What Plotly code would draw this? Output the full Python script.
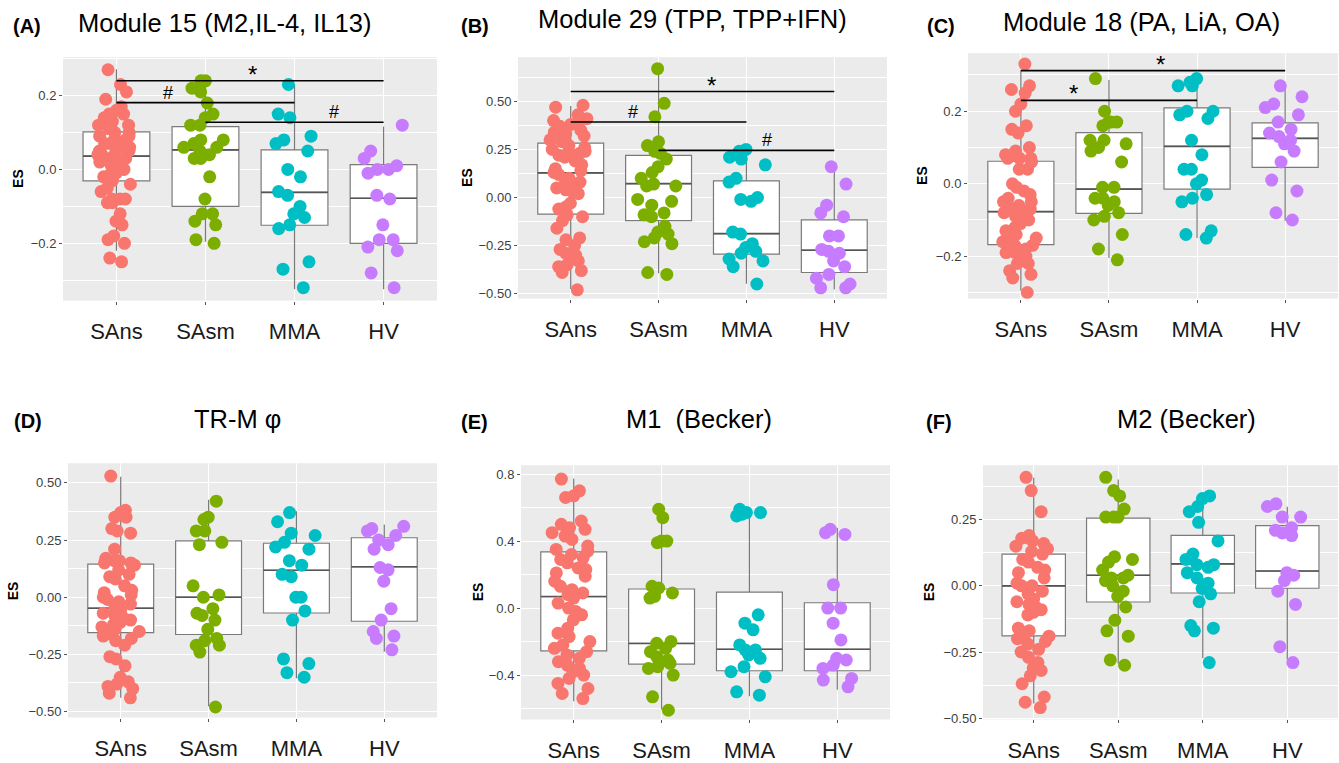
import plotly.graph_objects as go

W, H = 1339, 763
groups = ["SAns", "SAsm", "MMA", "HV"]
colors = ["#F8766D", "#7CAE00", "#00BFC4", "#C77CFF"]

panel_tags = ["(A)", "(B)", "(C)", "(D)", "(E)", "(F)"]
panel_titles = ["Module 15 (M2,IL-4, IL13)", "Module 29 (TPP, TPP+IFN)", "Module 18 (PA, LiA, OA)",
                "TR-M φ", "M1  (Becker)", "M2 (Becker)"]

# ---------------- Panel A ----------------
a_sans = [0.27, 0.23, 0.21, 0.19, 0.17, 0.16, 0.15, 0.15, 0.14, 0.13, 0.12, 0.12, 0.12, 0.11, 0.10, 0.10,
          0.09, 0.09, 0.08, 0.08, 0.07, 0.07, 0.06, 0.06, 0.05, 0.05, 0.04, 0.04, 0.04, 0.03, 0.03, 0.02,
          0.02, 0.01, 0.00, 0.00, -0.01, -0.01, -0.02, -0.03, -0.04, -0.05, -0.06, -0.08, -0.08, -0.08,
          -0.09, -0.09, -0.12, -0.14, -0.15, -0.18, -0.19, -0.20, -0.24, -0.25]
a_sasm = [0.24, 0.24, 0.22, 0.21, 0.18, 0.15, 0.14, 0.12, 0.12, 0.08, 0.08, 0.07, 0.06, 0.06, 0.05, 0.04,
          0.03, 0.03, -0.02, -0.08, -0.12, -0.12, -0.14, -0.15, -0.19, -0.20]
a_mma = [0.23, 0.15, 0.14, 0.09, 0.08, 0.07, 0.05, 0.00, -0.02, -0.06, -0.07, -0.10, -0.12, -0.13, -0.15,
         -0.16, -0.25, -0.27, -0.32]
a_hv = [0.12, 0.05, 0.03, 0.01, 0.00, 0.00, -0.01, -0.07, -0.08, -0.15, -0.19, -0.19, -0.21, -0.22, -0.28, -0.32]
a_lower = [-0.22, -0.196, -0.324, -0.324]
a_q1 = [-0.031, -0.100, -0.151, -0.200]
a_median = [0.036, 0.053, -0.062, -0.078]
a_q3 = [0.102, 0.116, 0.053, 0.013]
a_upper = [0.271, 0.24, 0.231, 0.116]

# ---------------- Panel B ----------------
b_sans = [0.47, 0.48, 0.43, 0.41, 0.40, 0.38, 0.38, 0.37, 0.35, 0.34, 0.33, 0.32, 0.31, 0.30, 0.29, 0.27,
          0.26, 0.25, 0.24, 0.24, 0.23, 0.22, 0.21, 0.19, 0.17, 0.15, 0.14, 0.13, 0.12, 0.10, 0.08, 0.07,
          0.06, 0.05, 0.04, 0.03, 0.02, -0.03, -0.05, -0.06, -0.09, -0.10, -0.12, -0.16, -0.21, -0.22,
          -0.25, -0.27, -0.29, -0.30, -0.32, -0.33, -0.35, -0.36, -0.38, -0.39, -0.48]
b_sasm = [0.67, 0.49, 0.42, 0.29, 0.27, 0.24, 0.23, 0.20, 0.16, 0.13, 0.10, 0.07, 0.06, 0.06, -0.01, -0.02,
          -0.04, -0.08, -0.09, -0.10, -0.15, -0.18, -0.19, -0.21, -0.23, -0.24, -0.39, -0.40]
b_mma = [0.25, 0.24, 0.21, 0.20, 0.17, 0.10, 0.08, 0.00, -0.01, -0.02, -0.18, -0.19, -0.24, -0.26, -0.28,
         -0.29, -0.32, -0.33, -0.36, -0.45]
b_hv = [0.16, 0.07, -0.04, -0.08, -0.10, -0.20, -0.20, -0.27, -0.28, -0.29, -0.33, -0.36, -0.40, -0.42,
        -0.45, -0.47, -0.47]
b_lower = [-0.476, -0.394, -0.449, -0.479]
b_q1 = [-0.086, -0.12, -0.295, -0.39]
b_median = [0.128, 0.072, -0.188, -0.274]
b_q3 = [0.283, 0.219, 0.086, -0.116]
b_upper = [0.476, 0.676, 0.257, 0.171]

# ---------------- Panel C ----------------
c_sans = [0.33, 0.27, 0.26, 0.25, 0.22, 0.20, 0.16, 0.15, 0.14, 0.10, 0.09, 0.08, 0.08, 0.07, 0.07, 0.07,
          0.06, 0.04, 0.04, 0.00, -0.01, -0.02, -0.03, -0.04, -0.05, -0.05, -0.06, -0.06, -0.07, -0.07,
          -0.08, -0.08, -0.09, -0.10, -0.10, -0.11, -0.12, -0.13, -0.14, -0.15, -0.16, -0.16, -0.17, -0.17,
          -0.18, -0.19, -0.19, -0.20, -0.21, -0.22, -0.22, -0.24, -0.25, -0.26, -0.30]
c_sasm = [0.29, 0.20, 0.17, 0.17, 0.17, 0.16, 0.12, 0.12, 0.11, 0.10, 0.09, 0.06, -0.01, -0.01, -0.04,
          -0.04, -0.05, -0.06, -0.08, -0.09, -0.10, -0.14, -0.18, -0.21]
c_mma = [0.29, 0.28, 0.27, 0.27, 0.20, 0.20, 0.19, 0.18, 0.12, 0.08, 0.04, 0.04, 0.01, 0.00, -0.03, -0.04,
         -0.05, -0.13, -0.14, -0.15]
c_hv = [0.27, 0.24, 0.22, 0.21, 0.19, 0.17, 0.15, 0.14, 0.13, 0.12, 0.11, 0.09, 0.06, 0.01, -0.02, -0.08, -0.10]
c_lower = [-0.295, -0.205, -0.15, -0.102]
c_q1 = [-0.168, -0.082, -0.015, 0.045]
c_median = [-0.077, -0.015, 0.103, 0.125]
c_q3 = [0.062, 0.141, 0.209, 0.168]
c_upper = [0.314, 0.286, 0.295, 0.268]

# ---------------- Panel D ----------------
d_sans = [0.53, 0.38, 0.37, 0.35, 0.35, 0.30, 0.29, 0.28, 0.21, 0.17, 0.16, 0.16, 0.15, 0.15, 0.14, 0.12,
          0.10, 0.09, 0.08, 0.05, 0.03, 0.02, 0.01, 0.00, -0.01, -0.02, -0.03, -0.05, -0.06, -0.07, -0.08,
          -0.09, -0.10, -0.11, -0.12, -0.13, -0.14, -0.15, -0.16, -0.17, -0.18, -0.19, -0.21, -0.26, -0.27,
          -0.30, -0.35, -0.37, -0.38, -0.39, -0.40, -0.42, -0.44]
d_sasm = [0.42, 0.35, 0.34, 0.29, 0.29, 0.24, 0.23, 0.05, 0.01, 0.00, -0.05, -0.07, -0.08, -0.10, -0.14,
          -0.18, -0.19, -0.21, -0.21, -0.24, -0.48]
d_mma = [0.37, 0.33, 0.28, 0.27, 0.24, 0.22, 0.21, 0.16, 0.14, 0.10, 0.09, 0.00, 0.00, -0.06, -0.10, -0.27,
         -0.29, -0.33, -0.35]
d_hv = [0.31, 0.30, 0.29, 0.27, 0.25, 0.23, 0.21, 0.13, 0.12, 0.07, -0.05, -0.10, -0.15, -0.17, -0.18, -0.23]
d_lower = [-0.44, -0.477, -0.354, -0.238]
d_q1 = [-0.155, -0.163, -0.069, -0.105]
d_median = [-0.048, 0.0, 0.118, 0.133]
d_q3 = [0.145, 0.246, 0.236, 0.26]
d_upper = [0.527, 0.426, 0.376, 0.318]

# ---------------- Panel E ----------------
e_sans = [0.77, 0.70, 0.67, 0.66, 0.52, 0.50, 0.48, 0.47, 0.47, 0.45, 0.43, 0.41, 0.37, 0.35, 0.34, 0.32,
          0.30, 0.29, 0.27, 0.24, 0.23, 0.21, 0.19, 0.16, 0.13, 0.11, 0.09, 0.08, 0.06, 0.03, 0.00, -0.02,
          -0.04, -0.07, -0.12, -0.15, -0.17, -0.20, -0.22, -0.24, -0.26, -0.28, -0.30, -0.32, -0.34, -0.36,
          -0.38, -0.40, -0.42, -0.45, -0.48, -0.51, -0.54]
e_sasm = [0.59, 0.54, 0.40, 0.40, 0.39, 0.13, 0.12, 0.09, 0.07, 0.06, -0.20, -0.21, -0.24, -0.26, -0.29,
          -0.31, -0.32, -0.33, -0.35, -0.36, -0.40, -0.53, -0.61]
e_mma = [0.59, 0.57, 0.57, 0.56, 0.55, -0.04, -0.09, -0.13, -0.22, -0.25, -0.25, -0.28, -0.30, -0.35,
         -0.38, -0.41, -0.50, -0.52]
e_hv = [0.47, 0.45, 0.44, 0.14, 0.00, 0.00, -0.09, -0.19, -0.30, -0.31, -0.34, -0.36, -0.42, -0.43, -0.47]
e_lower = [-0.556, -0.605, -0.526, -0.487]
e_q1 = [-0.256, -0.335, -0.374, -0.374]
e_median = [0.069, -0.211, -0.246, -0.246]
e_q3 = [0.335, 0.114, 0.095, 0.032]
e_upper = [0.774, 0.567, 0.603, 0.479]

# ---------------- Panel F ----------------
f_sans = [0.41, 0.36, 0.28, 0.19, 0.18, 0.18, 0.17, 0.16, 0.15, 0.14, 0.13, 0.12, 0.10, 0.09, 0.07, 0.06,
          0.05, 0.03, 0.01, 0.00, 0.00, -0.02, -0.03, -0.05, -0.06, -0.07, -0.08, -0.09, -0.10, -0.11,
          -0.16, -0.17, -0.19, -0.19, -0.20, -0.21, -0.22, -0.24, -0.25, -0.27, -0.29, -0.31, -0.32, -0.34,
          -0.37, -0.42, -0.44, -0.46]
f_sasm = [0.41, 0.36, 0.34, 0.29, 0.26, 0.26, 0.26, 0.11, 0.10, 0.09, 0.06, 0.04, 0.03, 0.03, 0.02, 0.00,
          -0.02, -0.04, -0.08, -0.13, -0.17, -0.19, -0.28, -0.30]
f_mma = [0.34, 0.33, 0.30, 0.28, 0.24, 0.17, 0.12, 0.10, 0.08, 0.08, 0.07, 0.05, 0.03, 0.01, -0.01, -0.03,
         -0.06, -0.15, -0.16, -0.17, -0.29]
f_hv = [0.31, 0.30, 0.26, 0.26, 0.22, 0.21, 0.20, 0.19, 0.05, 0.04, 0.02, -0.02, -0.07, -0.23, -0.29]
f_lower = [-0.445, -0.293, -0.274, -0.278]
f_q1 = [-0.189, -0.061, -0.027, -0.009]
f_median = [0.0, 0.04, 0.083, 0.056]
f_q3 = [0.12, 0.256, 0.191, 0.228]
f_upper = [0.409, 0.402, 0.348, 0.299]

# significance brackets: (panel, from group, to group, y level, label, label x)
brackets = [
    (0, 0, 3, 0.24, "*", 1.53), (0, 0, 2, 0.181, "#", 0.58), (0, 1, 3, 0.128, "#", 2.44),
    (1, 0, 3, 0.551, "*", 1.60), (1, 0, 2, 0.393, "#", 0.71), (1, 1, 3, 0.245, "#", 2.23),
    (2, 0, 3, 0.312, "*", 1.59), (2, 0, 2, 0.23, "*", 0.60),
]

panels = [
    dict(points=[a_sans, a_sasm, a_mma, a_hv], lower=a_lower, q1=a_q1, median=a_median, q3=a_q3, upper=a_upper),
    dict(points=[b_sans, b_sasm, b_mma, b_hv], lower=b_lower, q1=b_q1, median=b_median, q3=b_q3, upper=b_upper),
    dict(points=[c_sans, c_sasm, c_mma, c_hv], lower=c_lower, q1=c_q1, median=c_median, q3=c_q3, upper=c_upper),
    dict(points=[d_sans, d_sasm, d_mma, d_hv], lower=d_lower, q1=d_q1, median=d_median, q3=d_q3, upper=d_upper),
    dict(points=[e_sans, e_sasm, e_mma, e_hv], lower=e_lower, q1=e_q1, median=e_median, q3=e_q3, upper=e_upper),
    dict(points=[f_sans, f_sasm, f_mma, f_hv], lower=f_lower, q1=f_q1, median=f_median, q3=f_q3, upper=f_upper),
]

# layout geometry (pixels): plot area left, right, top, bottom
boxes_px = [(63, 437, 58, 305), (518, 887, 58, 303), (968, 1338, 54, 303),
            (68, 437, 470, 728), (521, 890, 472, 730), (983, 1338, 472, 730)]
y_ranges = [(-0.355, 0.304), (-0.526, 0.73), (-0.317, 0.36), (-0.526, 0.586), (-0.665, 0.853), (-0.505, 0.456)]
y_dticks = [0.2, 0.25, 0.2, 0.25, 0.4, 0.25]
y_formats = [".1f", ".2f", ".1f", ".2f", ".1f", ".2f"]
tag_pos = [(27, 26), (475, 26), (941, 26), (28, 427), (474, 428), (939, 428)]
title_pos = [(224, 23), (693, 19), (1141, 22), (237, 425), (699, 425), (1186, 425)]
es_x = [18, 467, 922, 13, 478, 929]

FONT = "Liberation Sans, Arial, sans-serif"

fig = go.Figure()
layout = dict(width=W, height=H, margin=dict(l=0, r=0, t=0, b=0), paper_bgcolor="white",
              plot_bgcolor="#EBEBEB", showlegend=False, boxmode="overlay",
              font=dict(family=FONT))
annotations = []
shapes = []

for p, panel in enumerate(panels):
    xa = "x" if p == 0 else f"x{p + 1}"
    ya = "y" if p == 0 else f"y{p + 1}"
    common = dict(xaxis=xa, yaxis=ya, showlegend=False, hoverinfo="skip")
    fig.add_trace(go.Box(x=groups, q1=panel["q1"], median=panel["median"], q3=panel["q3"],
                         lowerfence=panel["lower"], upperfence=panel["upper"],
                         fillcolor="white", line=dict(color="#7A7A7A", width=1.2),
                         width=0.75, whiskerwidth=0, boxpoints=False, **common))
    med = panel["median"]
    fig.add_trace(go.Box(x=groups, q1=med, median=med, q3=med, lowerfence=med, upperfence=med,
                         fillcolor="rgba(0,0,0,0)", line=dict(color="#555555", width=1.6),
                         width=0.75, whiskerwidth=0, boxpoints=False, **common))
    for g, vals in enumerate(panel["points"]):
        fig.add_trace(go.Box(x=[groups[g]] * len(vals), y=vals, boxpoints="all", jitter=1.0, pointpos=0,
                             width=0.5, fillcolor="rgba(0,0,0,0)",
                             line=dict(width=0, color="rgba(0,0,0,0)"),
                             marker=dict(color=colors[g], size=13, line=dict(width=0), opacity=1),
                             **common))

    l, r, t, b = boxes_px[p]
    suffix = "" if p == 0 else str(p + 1)
    layout["xaxis" + suffix] = dict(
        domain=[l / W, r / W], anchor=ya, range=[-0.6, 3.6],
        categoryorder="array", categoryarray=groups,
        showgrid=True, gridcolor="white", gridwidth=1.1, zeroline=False, showline=False,
        ticks="outside", ticklen=3, tickcolor="#555555", tickwidth=1,
        tickfont=dict(size=22, color="#1A1A1A", family=FONT), ticklabelstandoff=8)
    dt = y_dticks[p]
    layout["yaxis" + suffix] = dict(
        domain=[1 - b / H, 1 - t / H], anchor=xa, range=list(y_ranges[p]),
        tickmode="linear", tick0=0, dtick=dt, tickformat=y_formats[p],
        showgrid=True, gridcolor="white", gridwidth=1.1, zeroline=False, showline=False,
        minor=dict(dtick=dt / 2, tick0=0, showgrid=True, gridcolor="white", gridwidth=0.5, ticks=""),
        ticks="outside", ticklen=3, tickcolor="#555555", tickwidth=1,
        tickfont=dict(size=13, color="#3D3D3D", family=FONT))

    tx, ty = tag_pos[p]
    annotations.append(dict(text="<b>" + panel_tags[p] + "</b>", x=tx / W, y=1 - ty / H, xref="paper",
                            yref="paper", showarrow=False, xanchor="center", yanchor="middle",
                            font=dict(size=20, color="black", family=FONT)))
    hx, hy = title_pos[p]
    annotations.append(dict(text=panel_titles[p], x=hx / W, y=1 - hy / H, xref="paper", yref="paper",
                            showarrow=False, xanchor="center", yanchor="middle",
                            font=dict(size=25.5, color="black", family=FONT)))
    annotations.append(dict(text="<b>ES</b>", x=es_x[p] / W, y=1 - (t + b) / 2 / H, xref="paper",
                            yref="paper", showarrow=False, textangle=-90, xanchor="center",
                            yanchor="middle", font=dict(size=14, color="black", family=FONT)))

for (p, g0, g1, yv, lab, lx) in brackets:
    xa = "x" if p == 0 else f"x{p + 1}"
    ya = "y" if p == 0 else f"y{p + 1}"
    shapes.append(dict(type="line", xref=xa, yref=ya, x0=g0, x1=g1, y0=yv, y1=yv,
                       line=dict(color="black", width=1.6)))
    annotations.append(dict(text=lab, x=lx, y=yv, xref=xa, yref=ya, showarrow=False,
                            xanchor="center", yanchor="bottom", yshift=-9 if lab == "*" else -2,
                            font=dict(size=24 if lab == "*" else 18, color="black", family=FONT)))

layout["annotations"] = annotations
layout["shapes"] = shapes
fig.update_layout(**layout)
fig.write_html("out.html", config={"displayModeBar": False},
               post_script="document.body.style.margin='0px';")
